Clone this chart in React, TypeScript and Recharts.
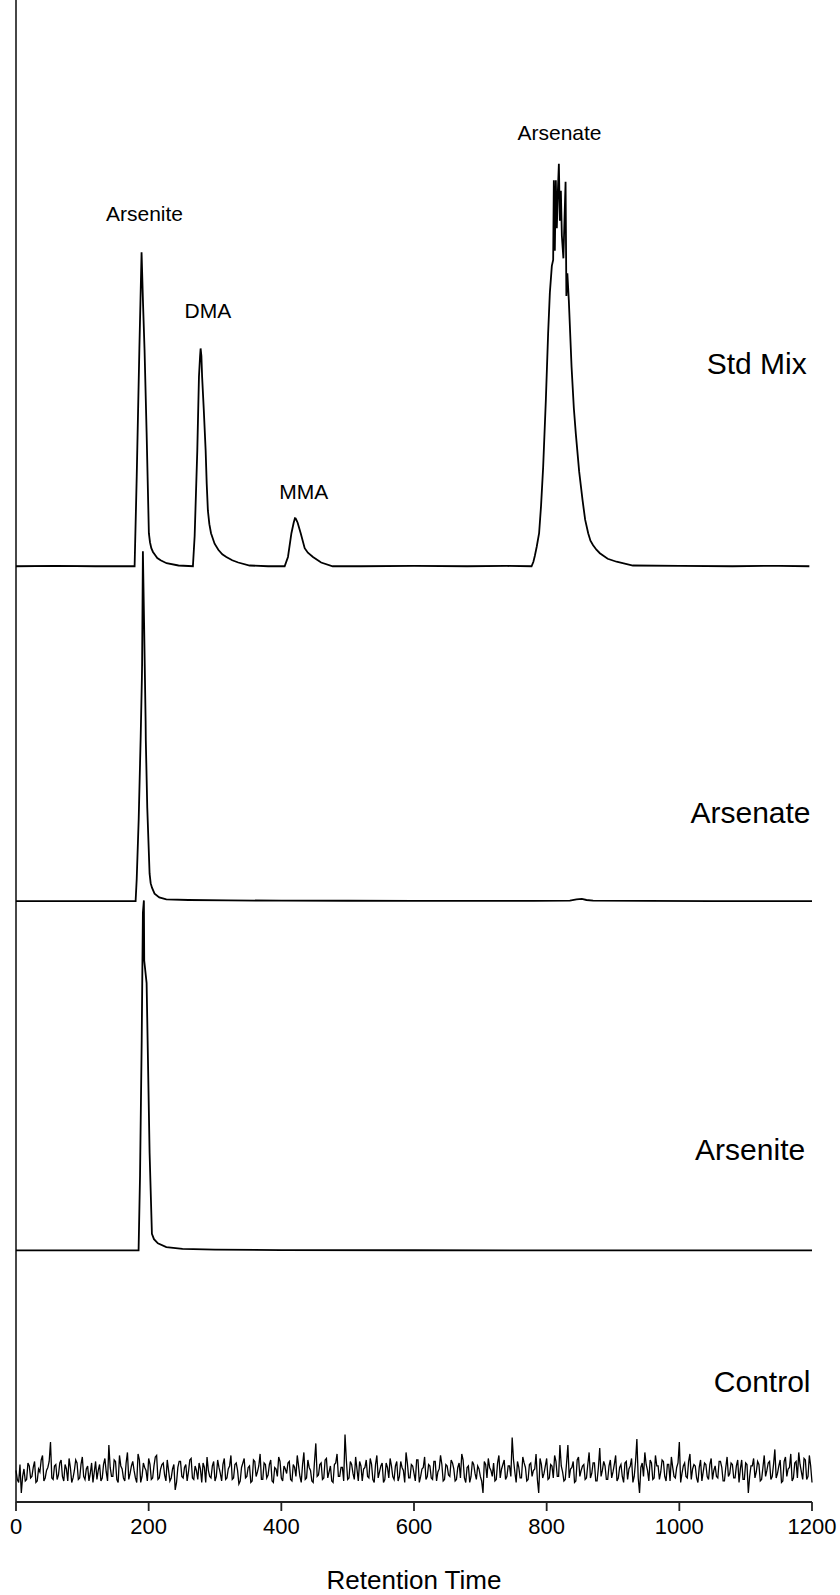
import React from 'react';
import { LineChart, Line, XAxis, YAxis, ReferenceDot, ReferenceLine } from 'recharts';

// ---- Data (x = retention time, y = intensity above each trace's baseline) ----
const stdMixTimes = [0, 60, 120, 170, 178.8, 182, 186, 189.3, 191.5, 193.8, 196.9, 200.3, 202, 204, 206.5, 208.9, 213, 218, 227, 245, 266.7, 269.3, 273.3, 275.8, 277.5, 278.3, 279.5, 280.6, 283, 285.9, 287.5, 289.3, 291.5, 294, 299.4, 305, 311, 317.1, 326, 335, 352.2, 380, 405, 410, 415.2, 418.6, 420.5, 421.6, 423, 424.6, 429.2, 435.2, 440, 447.7, 460, 477.4, 520, 600, 680, 740, 777.2, 780, 782.2, 785, 788.6, 791.5, 794.7, 798.8, 802.2, 804.8, 807.8, 809.8, 810.8, 812.3, 813.8, 815.3, 816.9, 818.4, 819.9, 821.4, 822.9, 825.2, 828.5, 829.7, 831.2, 833.4, 837.5, 841, 844, 849, 854.1, 858, 862.6, 866, 870, 875, 880.2, 892, 905.4, 930, 1000, 1080, 1150, 1196];
const stdMixValues = [0, 0.03, 0, 0, 0, 6, 14.5, 20.9, 17.5, 14.4, 8.9, 2.2, 1.6, 1.2, 0.95, 0.8, 0.55, 0.4, 0.2, 0.05, 0, 2, 7.7, 12.6, 14.0, 14.5, 14.0, 12.6, 10.5, 7.7, 5.5, 3.7, 2.8, 2.2, 1.5, 1.1, 0.8, 0.62, 0.4, 0.25, 0.05, 0, 0, 0.62, 2.2, 2.9, 3.2, 3.18, 3.05, 2.9, 2.2, 1.2, 0.9, 0.62, 0.25, 0, 0, 0.03, 0, 0.02, 0, 0.3, 0.7, 1.3, 2.2, 4, 6.6, 11.1, 15.5, 18.2, 20, 20.4, 25.7, 21, 25.7, 22.5, 25, 26.8, 23, 25, 22, 20.5, 25.6, 18, 19.5, 17.7, 13.3, 10.5, 8.8, 6.3, 4.4, 3.1, 2.2, 1.7, 1.4, 1.1, 0.87, 0.5, 0.3, 0.05, 0.02, 0, 0.03, 0];

const arsenateTimes = [0, 80, 150, 180.3, 182, 185, 188, 189.8, 190.1, 191.3, 193.1, 195.4, 195.7, 197.9, 201.4, 203, 205, 208.9, 216, 226.6, 260, 320, 400, 500, 600, 700, 780, 835, 845, 853, 860, 870, 950, 1050, 1200];
const arsenateValues = [0, 0, 0, 0, 1.5, 5.5, 11, 14.9, 15.8, 23.3, 18.5, 12, 10.7, 6.2, 1.83, 1.2, 0.9, 0.5, 0.25, 0.12, 0.08, 0.05, 0.04, 0.03, 0.02, 0.02, 0.02, 0.04, 0.12, 0.15, 0.08, 0.04, 0.02, 0, 0];

const arseniteTimes = [0, 80, 150, 184.8, 187, 189.5, 191.3, 192.8, 193.3, 196.9, 201.4, 204.9, 208, 213.9, 226.6, 251, 300, 400, 600, 800, 1000, 1200];
const arseniteValues = [0, 0, 0, 0, 5, 14, 22.5, 23.3, 19.3, 17.8, 6.5, 1.1, 0.75, 0.47, 0.22, 0.1, 0.05, 0.02, 0.01, 0, 0, 0];

// Control trace: noise read every 2 s (tenths of a unit); on-grid (0,4,8,...) and mid-grid (2,6,10,...) samples
const controlStep = 4;
const controlNoise = [
  2, -6, -13, 3, -4, 5, -2, 8, -5, 1, 12, -3, 4, 21, -4, 6, -1, 9, -5, 3,
  10, -6, 2, 7, -3, 11, -4, 5, 0, -6, 8, 2, -5, 6, 1, 19, -2, 9, -4, 12,
  3, -5, 14, 0, 8, -3, 13, -6, 7, 2, 10, -4, 5, 12, -3, 6, -1, 9, -5, 3,
  -11, 4, 8, -3, 6, 1, 10, -4, 2, 7, -6, 4, 11, -2, 5, -5, 9, 0, 6, -4,
  3, 12, -3, 7, -7, 4, 10, -2, 5, -5, 8, 1, 13, -4, 6, -1, 9, -6, 3, 11,
  -3, 5, 0, 8, -5, 4, 12, -2, 6, -4, 9, 2, -6, 20, -1, 7, -3, 10, 1, -5,
  6, 13, -2, 4, 26, -4, 8, 0, 11, -5, 5, 3, 9, -3, 6, -6, 12, 1, 7, -4,
  4, 10, -2, 5, -5, 8, 2, 14, -3, 6, 0, 9, -6, 3, 11, -2, 5, -4, 8, 1,
  12, -5, 6, -1, 9, 3, -4, 7, 13, -3, 4, -6, 8, 0, 5, -2, -13, 6, 10, 2,
  7, -4, 12, 3, 9, -2, 5, 24, 1, 8, -3, 11, 4, -4, 7, 2, 13, -13, 6, 0,
  10, -3, 5, 12, -2, 19, 1, -4, 19, 3, 8, -5, 11, 2, 6, -3, 14, 0, 7, -5,
  17, 2, 5, -4, 9, 1, 12, -3, 6, -6, 8, 3, 10, -2, 23, -13, 7, 14, 2, 9,
  -4, 12, 5, 1, 8, -5, 6, 11, -2, 4, 21, 0, 7, -3, 13, 3, 5, -6, 9, 1,
  6, -4, 10, 2, -2, 8, 4, -5, 11, 0, 6, -3, 9, 3, -4, 7, -13, 5, 10, 1,
  6, -4, 12, 2, 8, -2, 16, 0, 9, -5, 11, 3, 13, -3, 8, 14, 1, 10, -4, 12,
  -6,
];
const controlNoiseMid = [
  -4, 6, -2, -5, 7, -3, 4, -6, 3, 9, -5, 2, 8, -3, 5, -4, 7, -2, 6, -5,
  4, -3, 9, -4, 6, -2, 3, -5, 7, 1, -4, 6, -3, 10, -5, 4, -2, 8, -6, 5,
  -3, 7, -4, 5, 2, -6, 9, -2, 4, -5, 6, -3, 11, -4, 3, 7, -5, 2, -3, 6,
  -6, 8, -2, 4, -5, 9, -3, 5, -4, 3, 7, -6, 2, -3, 8, -2, 4, -5, 10, -3,
  5, -4, 6, 2, -5, 7, -3, 4, -6, 9, -2, 5, -4, 7, -3, 6, -5, 4, -2, 8,
  -5, 3, 7, -4, 6, -2, 5, -6, 14, -3, 4, -5, 8, -2, 6, -4, 9, -3, 5, -6,
  7, -2, 4, -5, 9, -3, 6, -4, 3, 8, -5, 4, -2, 10, -4, 6, -3, 5, -6, 7,
  -3, 5, -4, 8, -2, 4, -6, 7, -3, 5, -5, 9, -2, 4, -4, 6, -3, 8, -5, 3,
  6, -4, 5, -2, 7, -5, 4, -3, 9, -6, 5, -2, 6, -4, 3, -5, 8, -3, 4, -2,
  -5, 7, -3, 6, -4, 5, -2, 9, -6, 4, -3, 7, -5, 6, -2, 3, -4, 10, -3, 5,
  -4, 6, -3, 8, -2, 5, -5, 7, -3, 4, -6, 9, -2, 5, -4, 6, -3, 7, -5, 4,
  -2, 8, -4, 5, -3, 6, -5, 4, -2, 7, -4, 5, -6, 8, -3, 4, -2, 6, -5, 7,
  -3, 5, -4, 9, -2, 6, -5, 4, -3, 7, -6, 5, -2, 8, -4, 6, -3, 4, -5, 7,
  -2, 6, -4, 5, -3, 8, -5, 4, -2, 7, -3, 5, -6, 9, -4, 6, -2, 5, -3, 8,
  -5, 4, -2, 7, -4, 6, -3, 5, -6, 8, -2, 4, -5, 7, -3, 6, -4, 9, -2, 5,
];

const xTicks = [0, 200, 400, 600, 800, 1000, 1200];

// Stacking offsets of the four chromatograms (y units)
const OFFSET_STD = 62.3;
const OFFSET_ARSENATE = 40.0;
const OFFSET_ARSENITE = 16.75;
const OFFSET_CONTROL = 1.9;

// Annotation texts: [text, t, y]
const peakLabels: [string, number, number][] = [
  ['Arsenite', 193.8, 85.3],
  ['DMA', 289.3, 78.8],
  ['MMA', 433.7, 66.8],
  ['Arsenate', 819.4, 90.7],
];
const traceLabels: [string, number, number][] = [
  ['Std Mix', 1192, 75.1],
  ['Arsenate', 1197.8, 45.2],
  ['Arsenite', 1189.7, 22.8],
  ['Control', 1197.8, 7.3],
];

const FONT = '"Liberation Sans", Arial, Helvetica, sans-serif';

const build = (times: number[], values: number[], offset: number) =>
  times.map((t, i) => ({ t, v: offset + values[i] }));

const stdMixData = build(stdMixTimes, stdMixValues, OFFSET_STD);
const arsenateData = build(arsenateTimes, arsenateValues, OFFSET_ARSENATE);
const arseniteData = build(arseniteTimes, arseniteValues, OFFSET_ARSENITE);
const controlData: { t: number; v: number }[] = [];
controlNoise.forEach((n, i) => {
  controlData.push({ t: i * controlStep, v: OFFSET_CONTROL + n / 10 });
  if (i < controlNoiseMid.length) {
    controlData.push({ t: i * controlStep + controlStep / 2, v: OFFSET_CONTROL + controlNoiseMid[i] / 10 });
  }
});

const makeText = (text: string, anchor: 'middle' | 'end', size: number) => (p: any) => (
  <text x={p.cx} y={p.cy} textAnchor={anchor} fontSize={size} fontFamily={FONT} fill="#000">
    {text}
  </text>
);

export default function App() {
  return (
    <div style={{ position: 'absolute', left: 0, top: 0, background: '#fff' }}>
      <LineChart width={840} height={1595} margin={{ top: 0, right: 28, bottom: 0, left: 16 }}>
        <XAxis
          type="number"
          dataKey="t"
          domain={[0, 1200]}
          ticks={xTicks}
          interval={0}
          height={93}
          tickSize={9}
          tickMargin={7}
          axisLine={{ stroke: '#222', strokeWidth: 1.8 }}
          tickLine={{ stroke: '#222', strokeWidth: 1.8 }}
          tick={{ fontSize: 22, fill: '#000', fontFamily: FONT }}
          label={{ value: 'Retention Time', position: 'insideBottom', offset: 6, fontSize: 26, fill: '#000', fontFamily: FONT }}
        />
        <YAxis type="number" domain={[0, 100]} hide />
        <ReferenceLine x={0} stroke="#333" strokeWidth={1.8} ifOverflow="visible" />
        <Line data={stdMixData} dataKey="v" type="linear" stroke="#000" strokeWidth={1.8} dot={false} isAnimationActive={false} />
        <Line data={arsenateData} dataKey="v" type="linear" stroke="#000" strokeWidth={1.8} dot={false} isAnimationActive={false} />
        <Line data={arseniteData} dataKey="v" type="linear" stroke="#000" strokeWidth={1.8} dot={false} isAnimationActive={false} />
        <Line data={controlData} dataKey="v" type="linear" stroke="#000" strokeWidth={1.3} dot={false} isAnimationActive={false} />
        {peakLabels.map(([text, t, y]) => (
          <ReferenceDot key={'p' + text + t} x={t} y={y} r={1} ifOverflow="visible" shape={makeText(text, 'middle', 21)} />
        ))}
        {traceLabels.map(([text, t, y]) => (
          <ReferenceDot key={'t' + text + t} x={t} y={y} r={1} ifOverflow="visible" shape={makeText(text, 'end', 30)} />
        ))}
      </LineChart>
    </div>
  );
}
